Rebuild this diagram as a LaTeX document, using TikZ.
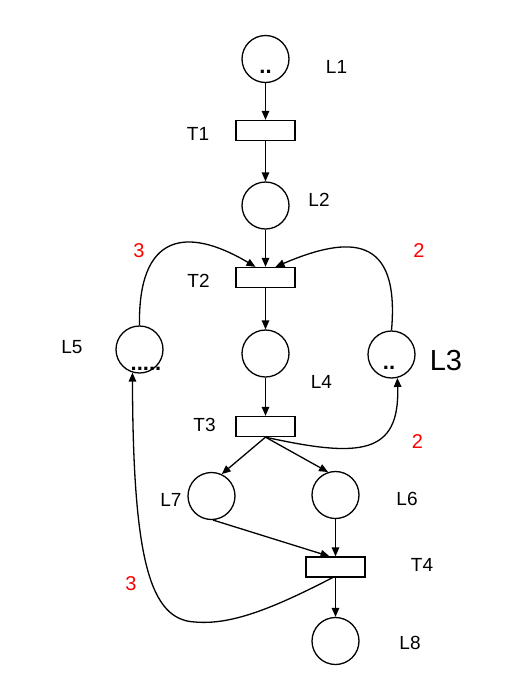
\documentclass[tikz,border=0pt]{standalone}
\usepackage{fontspec}
\setmainfont{Liberation Sans}
\usetikzlibrary{arrows.meta}
\begin{document}
\begin{tikzpicture}[x=1pt,y=-1pt,
  line width=1.3pt,
  place/.style={circle,draw,minimum size=47pt,inner sep=0pt},
  trans/.style={rectangle,draw,minimum width=59pt,minimum height=20pt,inner sep=0pt},
  lbl/.style={inner sep=0pt,font=\fontsize{19}{19}\selectfont},
  big/.style={inner sep=0pt,font=\fontsize{29}{29}\selectfont},
  wgt/.style={inner sep=0pt,text=red,font=\fontsize{20}{20}\selectfont},
  tok/.style={inner sep=0pt,anchor=base,font=\bfseries\fontsize{22}{22}\selectfont},
  arc/.style={-{Triangle[length=9pt,width=7.5pt]}}]
\useasboundingbox (0,0) rectangle (526,694);
% places
\node[place] (L1) at (265.5,59) {};
\node[place] (L2) at (265.5,205.5) {};
\node[place] (L4) at (265.5,353.5) {};
\node[place] (L5) at (139.5,349.5) {};
\node[place] (L3) at (391.5,354.5) {};
\node[place] (L7) at (211.5,496) {};
\node[place] (L6) at (335.5,495) {};
\node[place] (L8) at (335.5,641) {};
% transitions
\node[trans] (T1) at (265.5,130.5) {};
\node[trans] (T2) at (265.5,277.5) {};
\node[trans] (T3) at (265.5,426.5) {};
\node[trans] (T4) at (335.5,567) {};
% tokens
\node[tok] (k1) at (265.5,73) {..};
\node[tok] (k3) at (389,369.5) {..};
\node[tok] (k5) at (146,370) {.....};
% labels
\node[lbl] (l1) at (336.5,67) {L1};
\node[lbl] (t1) at (198,133.5) {T1};
\node[lbl] (l2) at (319,199.5) {L2};
\node[lbl] (t2) at (198.5,280.5) {T2};
\node[big] (l3) at (446,360.5) {L3};
\node[lbl] (l4) at (321.5,382) {L4};
\node[lbl] (l5) at (72,347) {L5};
\node[lbl] (t3) at (204.5,424.5) {T3};
\node[lbl] (l7) at (171,499.5) {L7};
\node[lbl] (l6) at (407,499) {L6};
\node[lbl] (t4) at (422,565) {T4};
\node[lbl] (l8) at (410,643) {L8};
% weights
\node[wgt] (w1) at (139,250.5) {3};
\node[wgt] (w2) at (419,250.5) {2};
\node[wgt] (w3) at (417.5,441.5) {2};
\node[wgt] (w4) at (131,583.5) {3};
% arcs
\draw[arc] (L1) -- (T1);
\draw[arc] (T1) -- (L2);
\draw[arc] (L2) -- (T2);
\draw[arc] (T2) -- (L4);
\draw[arc] (L4) -- (T3);
\draw[arc] (T3.south) -- (L7.65);
\draw[arc] (T3.south) -- (L6.108);
\draw[arc] (L7.274) -- ([xshift=-6pt]T4.north);
\draw[arc] (L6) -- (T4);
\draw[arc] (T4) -- (L8);
\draw[arc] (L5.north) .. controls (138,235) and (185,225) .. ([xshift=-10pt]T2.north);
\draw[arc] (L3.north) .. controls (400,235) and (350,235) .. ([xshift=10pt]T2.north);
\draw[arc] (T3.south) .. controls (360,458) and (400,455) .. (L3.284);
\draw[arc] ([xshift=-3pt]T4.south) .. controls (270,610) and (230,625) .. (195,622)
   .. controls (150,620) and (133,560) .. (L5.253);
\end{tikzpicture}
\end{document}
